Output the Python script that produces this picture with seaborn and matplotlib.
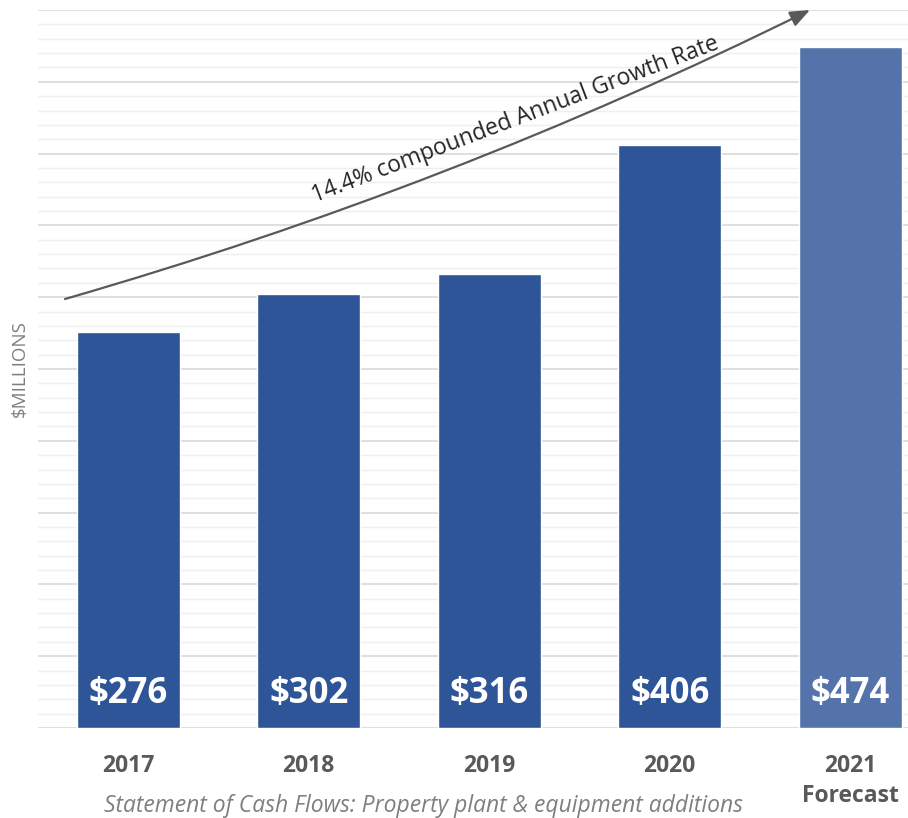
import matplotlib
matplotlib.use("Agg")
import matplotlib.pyplot as plt
import seaborn as sns
import numpy as np

years = ["2017", "2018", "2019", "2020", "2021"]
values = [276, 302, 316, 406, 474]
value_labels = ["$276", "$302", "$316", "$406", "$474"]
tick_labels = ["2017", "2018", "2019", "2020", "2021\nForecast"]
bar_colors = ["#2E5597", "#2E5597", "#2E5597", "#2E5597", "#5573AB"]

sns.set_theme(style="white")
plt.rcParams["font.family"] = ["Open Sans", "DejaVu Sans"]

fig = plt.figure(figsize=(9.08, 8.18), dpi=100)
ax = fig.add_axes([38/908, 1 - 728/818, 1 - 38/908, 718/818])

sns.barplot(x=years, y=values, hue=years, palette=bar_colors, legend=False,
            width=0.57, saturation=1, ax=ax, zorder=3)

ax.set_ylim(0, 500)
ax.set_xlim(-0.5, 4.32)
ax.set_yticks(np.arange(0, 501, 50))
ax.set_yticks(np.arange(0, 501, 10), minor=True)
ax.grid(axis="y", which="major", color="#D9D9D9", linewidth=1.2, zorder=0)
ax.grid(axis="y", which="minor", color="#EFEFEF", linewidth=1.0, zorder=0)
ax.grid(axis="x", visible=False)
ax.tick_params(axis="y", which="both", left=False, labelleft=False)
ax.tick_params(axis="x", length=0, pad=19)
ax.set_xticks(range(5))
ax.set_xticklabels(tick_labels, fontsize=16.5, fontweight="bold", color="#595959",
                   linespacing=1.3, va="top")
for s in ax.spines.values():
    s.set_visible(False)
ax.set_xlabel("")
ax.set_ylabel("")

for i, (v, lab) in enumerate(zip(values, value_labels)):
    ax.text(i, 24, lab, ha="center", va="center", color="white",
            fontsize=25, fontweight="bold", zorder=5)

# growth arrow
ax.annotate("", xy=(810/908, 1 - 10/818), xycoords="figure fraction",
            xytext=(65/908, 1 - 299/818), textcoords="figure fraction",
            arrowprops=dict(arrowstyle="-|>,head_length=1.0,head_width=0.4",
                        color="#595959", lw=1.6,
                        connectionstyle="arc3,rad=0.045",
                        shrinkA=0, shrinkB=0), zorder=6)
fig.text(515/908, 1 - 120/818, "14.4% compounded Annual Growth Rate",
         rotation=20.8, rotation_mode="anchor", ha="center", va="center",
         fontsize=16.5, color="#262626")

fig.text(20/908, 1 - 369/818, "$MILLIONS", rotation=90, ha="center", va="center",
         fontsize=13.5, color="#7F7F7F")
fig.text(424/908, 1 - 806/818, "Statement of Cash Flows: Property plant & equipment additions",
         ha="center", va="center", fontsize=16.5, style="italic", color="#7F7F7F")

fig.savefig("out.png", dpi=100)
